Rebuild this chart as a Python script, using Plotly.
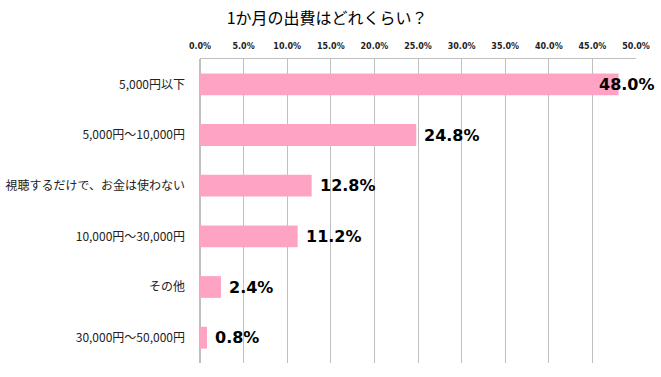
import plotly.graph_objects as go

categories = ["5,000円以下", "5,000円～10,000円", "視聴するだけで、お金は使わない",
              "10,000円～30,000円", "その他", "30,000円～50,000円"]
values = [48.0, 24.8, 12.8, 11.2, 2.4, 0.8]
tick_vals = [0, 5, 10, 15, 20, 25, 30, 35, 40, 45, 50]
tick_text = [f"{v:.1f}%" for v in tick_vals]
title = "1か月の出費はどれくらい？"

fig = go.Figure()
fig.add_trace(go.Bar(
    y=categories, x=values, orientation="h",
    marker=dict(color="#FFA3C5", line=dict(width=0)),
    width=0.43,
    hoverinfo="x+y",
))

label_font = dict(family="DejaVu Sans", size=16, color="#000000", weight="bold")
for cat, v in zip(categories, values):
    if v > 44:
        fig.add_annotation(x=1, xref="paper", y=cat, yref="y", text=f"{v:.1f}%",
                           showarrow=False, xanchor="right", xshift=21, font=label_font)
    else:
        fig.add_annotation(x=v, xref="x", y=cat, yref="y", text=f"{v:.1f}%",
                           showarrow=False, xanchor="left", xshift=6, font=label_font)

fig.update_layout(
    width=661, height=377,
    margin=dict(l=200, r=25, t=59, b=14, autoexpand=False),
    paper_bgcolor="white", plot_bgcolor="white",
    showlegend=False,
    title=dict(text=title, x=0.495, xanchor="center", y=0.952, yanchor="middle",
               font=dict(family="Noto Sans CJK JP", size=16, color="#000000")),
    xaxis=dict(range=[0, 50], side="top", tickvals=tick_vals, ticktext=tick_text,
               showgrid=True, gridcolor="#BFBFBF", gridwidth=1,
               showline=True, linecolor="#BFBFBF", mirror=False,
               zeroline=True, zerolinecolor="#BFBFBF",
               tickfont=dict(family="DejaVu Sans", size=8, color="#222222", weight="bold"),
               ticks="", ticklabelstandoff=6, fixedrange=True, automargin=False),
    yaxis=dict(categoryorder="array", categoryarray=categories, autorange="reversed",
               tickfont=dict(family="Noto Sans CJK JP", size=12, color="#222222"),
               ticks="", ticklabelstandoff=14, showgrid=False, fixedrange=True,
               automargin=False),
    bargap=0.57,
)

fig.write_html("out.html", post_script="document.body.style.margin='0';",
               config={"displayModeBar": False})
